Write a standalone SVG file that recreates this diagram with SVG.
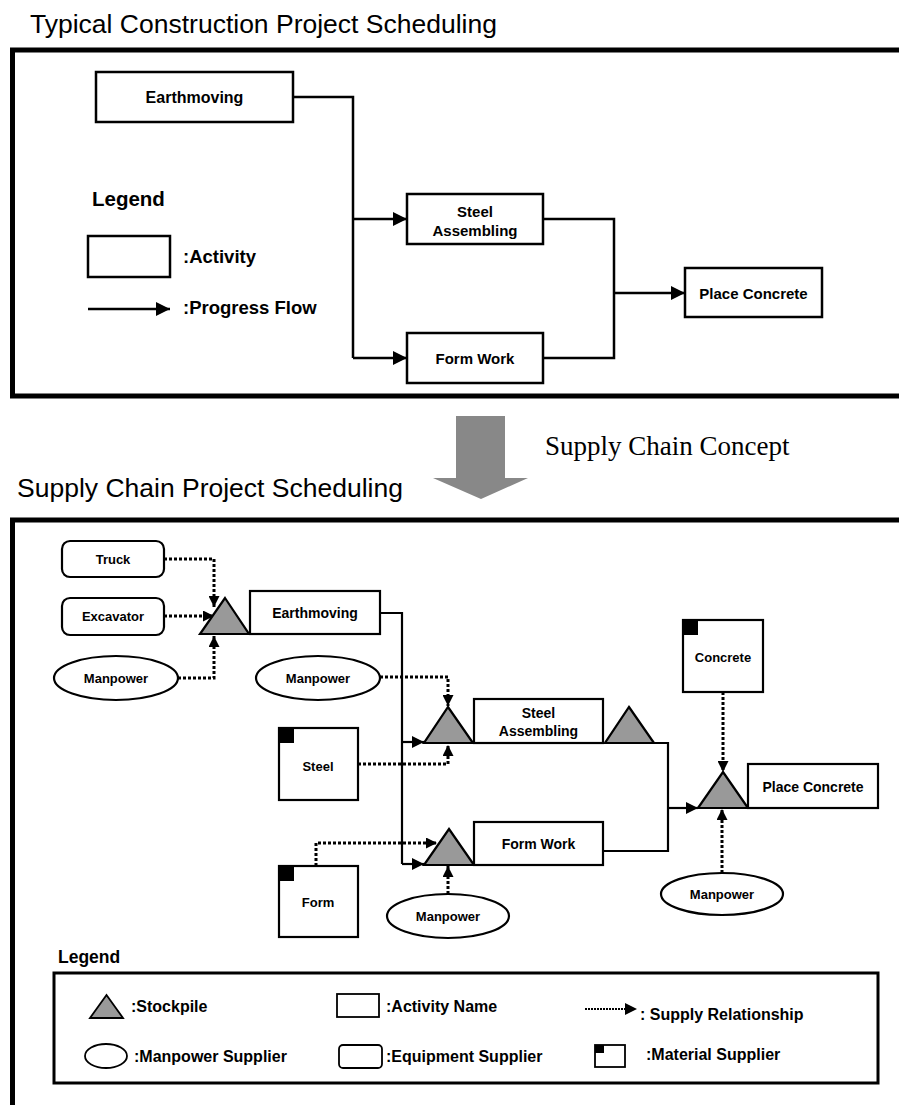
<svg xmlns="http://www.w3.org/2000/svg" width="899" height="1105" viewBox="0 0 899 1105">
  <style>
    .title { font-family: "Liberation Sans", Arial, sans-serif; font-size: 26.5px; fill: #000; }
    .serif { font-family: "Liberation Serif", "Times New Roman", serif; font-size: 27px; fill: #000; }
    .lbl { font-family: "Liberation Sans", Arial, sans-serif; font-weight: bold; fill: #000; text-anchor: middle; dominant-baseline: central; }
    .big { font-size: 15px; }
    .act { font-size: 14px; }
    .sup { font-size: 13px; }
    .leg { font-family: "Liberation Sans", Arial, sans-serif; font-weight: bold; fill: #000; }
    .frame { fill: none; stroke: #000; stroke-width: 5; }
    .box { fill: #fff; stroke: #000; stroke-width: 2.5; }
    .sbox { fill: #fff; stroke: #000; stroke-width: 2.2; }
    .tri { fill: #999; stroke: #000; stroke-width: 2.2; stroke-linejoin: miter; }
    .flow { fill: none; stroke: #000; stroke-width: 2.5; }
    .flow2 { fill: none; stroke: #000; stroke-width: 2.2; }
    .supply { fill: none; stroke: #000; stroke-width: 3; stroke-dasharray: 3 2; }
    .corner { fill: #000; }
  </style>
  <defs>
    <marker id="arrowBig" viewBox="0 0 14 14" refX="14" refY="7" markerWidth="14" markerHeight="14" markerUnits="userSpaceOnUse" orient="auto">
      <path d="M0,0 L14,7 L0,14 Z" fill="#000"/>
    </marker>
    <marker id="arrowSmall" viewBox="0 0 12 12" refX="12" refY="6" markerWidth="12" markerHeight="12" markerUnits="userSpaceOnUse" orient="auto">
      <path d="M0,0 L12,6 L0,12 Z" fill="#000"/>
    </marker>
    <marker id="arrowDot" viewBox="0 0 11 11" refX="11" refY="5.5" markerWidth="11" markerHeight="11" markerUnits="userSpaceOnUse" orient="auto">
      <path d="M0,0 L11,5.5 L0,11 Z" fill="#000"/>
    </marker>
  </defs>

  <rect width="899" height="1105" fill="#fff"/>

  <!-- ===== Upper panel: typical scheduling ===== -->
  <text class="title" x="30" y="33">Typical Construction Project Scheduling</text>
  <rect class="frame" x="12.5" y="50" width="900" height="346"/>

  <g id="connectors-top">
    <polyline class="flow" points="293,97 353,97 353,358"/>
    <line class="flow" x1="353" y1="219" x2="407" y2="219" marker-end="url(#arrowBig)"/>
    <line class="flow" x1="353" y1="358" x2="407" y2="358" marker-end="url(#arrowBig)"/>
    <polyline class="flow" points="543,219 614,219 614,358 543,358"/>
    <line class="flow" x1="614" y1="293" x2="685" y2="293" marker-end="url(#arrowBig)"/>
  </g>

  <g id="top-earthmoving">
    <rect class="box" x="96" y="72" width="197" height="50"/>
    <text class="lbl big" x="194.5" y="97" style="font-size:16px">Earthmoving</text>
  </g>
  <g id="top-steel-assembling">
    <rect class="box" x="407" y="194" width="136" height="50"/>
    <text class="lbl big" x="475" y="211">Steel</text>
    <text class="lbl big" x="475" y="230">Assembling</text>
  </g>
  <g id="top-form-work">
    <rect class="box" x="407" y="333" width="136" height="50"/>
    <text class="lbl big" x="475" y="358">Form Work</text>
  </g>
  <g id="top-place-concrete">
    <rect class="box" x="685" y="268" width="137" height="49"/>
    <text class="lbl big" x="753.5" y="293">Place Concrete</text>
  </g>

  <g id="top-legend">
    <text class="leg" x="92" y="206" font-size="20.5">Legend</text>
    <rect class="box" x="88" y="236" width="82" height="41"/>
    <text class="leg" x="183" y="263" font-size="18.5">:Activity</text>
    <line class="flow" x1="88" y1="309" x2="170" y2="309" marker-end="url(#arrowBig)"/>
    <text class="leg" x="183" y="314" font-size="18.5">:Progress Flow</text>
  </g>

  <!-- ===== Transition arrow ===== -->
  <g id="transition">
    <polygon points="456,416 505,416 505,478 528,478 481,499 433,478 456,478" fill="#888"/>
    <text class="serif" x="545" y="455">Supply Chain Concept</text>
  </g>

  <!-- ===== Lower panel: supply chain scheduling ===== -->
  <text class="title" x="17" y="497">Supply Chain Project Scheduling</text>
  <rect class="frame" x="12.5" y="520" width="900" height="600"/>

  <g id="connectors-bottom">
    <!-- progress flow -->
    <polyline class="flow2" points="380,613 402,613 402,864"/>
    <line class="flow2" x1="402" y1="742" x2="424" y2="742" marker-end="url(#arrowSmall)"/>
    <line class="flow2" x1="402" y1="864" x2="424" y2="864" marker-end="url(#arrowSmall)"/>
    <polyline class="flow2" points="654,743 668,743 668,851 603,851"/>
    <line class="flow2" x1="668" y1="808" x2="698" y2="808" marker-end="url(#arrowSmall)"/>
    <!-- supply relationships -->
    <polyline class="supply" points="164,559 214,559 214,607" marker-end="url(#arrowDot)"/>
    <line class="supply" x1="164" y1="616" x2="214" y2="616" marker-end="url(#arrowDot)"/>
    <polyline class="supply" points="178,678 214,678 214,636" marker-end="url(#arrowDot)"/>
    <polyline class="supply" points="380,677 448,677 448,706" marker-end="url(#arrowDot)"/>
    <polyline class="supply" points="358,764 448,764 448,745" marker-end="url(#arrowDot)"/>
    <polyline class="supply" points="316,866 316,843 437,843" marker-end="url(#arrowDot)"/>
    <line class="supply" x1="448" y1="894" x2="448" y2="866" marker-end="url(#arrowDot)"/>
    <line class="supply" x1="723" y1="692" x2="723" y2="772" marker-end="url(#arrowDot)"/>
    <line class="supply" x1="722" y1="873" x2="722" y2="809" marker-end="url(#arrowDot)"/>
  </g>

  <g id="truck">
    <rect class="sbox" x="62" y="541" width="102" height="36" rx="8"/>
    <text class="lbl sup" x="113" y="559">Truck</text>
  </g>
  <g id="excavator">
    <rect class="sbox" x="62" y="598" width="102" height="37" rx="8"/>
    <text class="lbl sup" x="113" y="616.5">Excavator</text>
  </g>
  <g id="manpower-1">
    <ellipse class="sbox" cx="116" cy="678" rx="62" ry="22"/>
    <text class="lbl sup" x="116" y="678">Manpower</text>
  </g>
  <g id="stockpile-earthmoving">
    <polygon class="tri" points="225,598 249,634 200,634"/>
  </g>
  <g id="earthmoving">
    <rect class="sbox" x="250" y="591" width="130" height="43"/>
    <text class="lbl act" x="315" y="612.5">Earthmoving</text>
  </g>
  <g id="manpower-2">
    <ellipse class="sbox" cx="318" cy="678" rx="62" ry="22"/>
    <text class="lbl sup" x="318" y="678">Manpower</text>
  </g>

  <g id="steel">
    <rect class="sbox" x="279" y="728" width="79" height="72"/>
    <rect class="corner" x="279" y="728" width="15" height="15"/>
    <text class="lbl sup" x="318" y="766">Steel</text>
  </g>
  <g id="stockpile-steel">
    <polygon class="tri" points="448,707 473,743 424,743"/>
  </g>
  <g id="steel-assembling">
    <rect class="sbox" x="474" y="699" width="129" height="44"/>
    <text class="lbl act" x="538.5" y="713">Steel</text>
    <text class="lbl act" x="538.5" y="731">Assembling</text>
  </g>
  <g id="stockpile-steel-out">
    <polygon class="tri" points="629,707 654,743 605,743"/>
  </g>

  <g id="form">
    <rect class="sbox" x="279" y="866" width="79" height="71"/>
    <rect class="corner" x="279" y="866" width="15" height="15"/>
    <text class="lbl sup" x="318" y="902">Form</text>
  </g>
  <g id="stockpile-form">
    <polygon class="tri" points="449,829 474,865 424,865"/>
  </g>
  <g id="form-work">
    <rect class="sbox" x="474" y="822" width="129" height="43"/>
    <text class="lbl act" x="538.5" y="844">Form Work</text>
  </g>
  <g id="manpower-3">
    <ellipse class="sbox" cx="448" cy="916" rx="61" ry="22"/>
    <text class="lbl sup" x="448" y="916">Manpower</text>
  </g>

  <g id="concrete">
    <rect class="sbox" x="683" y="620" width="80" height="72"/>
    <rect class="corner" x="683" y="620" width="15" height="15"/>
    <text class="lbl sup" x="723" y="657">Concrete</text>
  </g>
  <g id="stockpile-concrete">
    <polygon class="tri" points="723,772 748,808 698,808"/>
  </g>
  <g id="place-concrete">
    <rect class="sbox" x="748" y="764" width="130" height="44"/>
    <text class="lbl act" x="813" y="786.5">Place Concrete</text>
  </g>
  <g id="manpower-4">
    <ellipse class="sbox" cx="722" cy="894" rx="61" ry="21"/>
    <text class="lbl sup" x="722" y="894">Manpower</text>
  </g>

  <!-- ===== Lower legend ===== -->
  <g id="bottom-legend">
    <text class="leg" x="58" y="963" font-size="17.5">Legend</text>
    <rect fill="none" stroke="#000" stroke-width="3" x="54" y="973" width="824" height="110"/>
    <polygon class="tri" points="106.5,995 123,1018 90,1018" style="stroke-width:1.8"/>
    <text class="leg" x="131" y="1012" font-size="16">:Stockpile</text>
    <rect class="sbox" x="337" y="994" width="42" height="23" style="stroke-width:1.8"/>
    <text class="leg" x="386" y="1012" font-size="16">:Activity Name</text>
    <line class="supply" x1="585" y1="1009" x2="626" y2="1009" style="stroke-width:2;stroke-dasharray:2 1"/>
    <path d="M625,1003 L637,1009 L625,1015 Z" fill="#000"/>
    <text class="leg" x="640" y="1020" font-size="16">: Supply Relationship</text>
    <ellipse class="sbox" cx="106" cy="1056" rx="21" ry="12" style="stroke-width:1.8"/>
    <text class="leg" x="134" y="1062" font-size="16">:Manpower Supplier</text>
    <rect class="sbox" x="339" y="1045" width="43" height="23" rx="4" style="stroke-width:1.8"/>
    <text class="leg" x="386" y="1062" font-size="16">:Equipment Supplier</text>
    <rect class="sbox" x="595" y="1045" width="30" height="22" style="stroke-width:1.8"/>
    <rect class="corner" x="595" y="1045" width="9" height="8"/>
    <text class="leg" x="646" y="1060" font-size="16">:Material Supplier</text>
  </g>
</svg>
